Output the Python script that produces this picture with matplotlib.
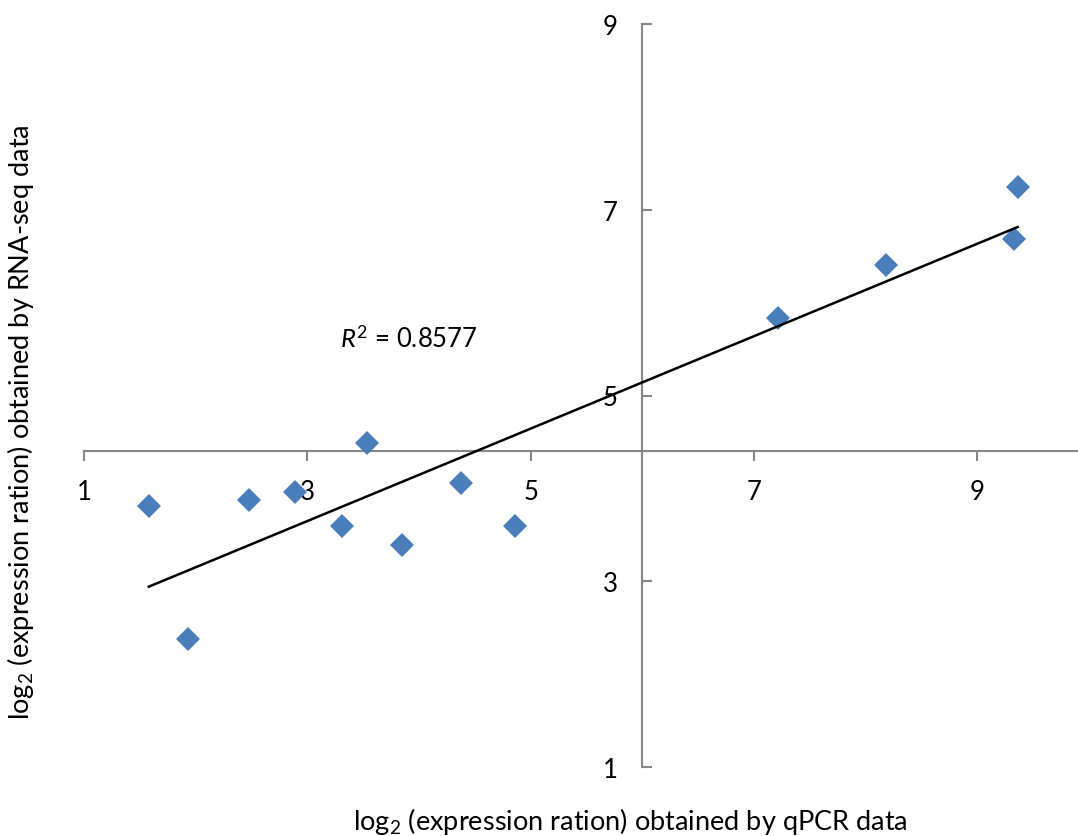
import numpy as np
import matplotlib
matplotlib.use("Agg")
import matplotlib.pyplot as plt

# --- данные ---
qpcr = [1.58, 1.93, 2.48, 2.89, 3.31, 3.53, 3.85, 4.38, 4.86, 7.21, 8.18, 9.33, 9.36]
rnaseq = [3.81, 2.38, 3.87, 3.96, 3.60, 4.49, 3.39, 4.06, 3.60, 5.83, 6.41, 6.68, 7.24]
x_ticks = [1, 3, 5, 7, 9]
y_ticks = [1, 3, 5, 7, 9]
r2_text = "0.8577"

plt.rcParams['font.family'] = ['Lato', 'DejaVu Sans']
plt.rcParams['mathtext.fontset'] = 'custom'
plt.rcParams['mathtext.rm'] = 'Lato'
plt.rcParams['mathtext.it'] = 'Lato:italic'

axis_col = '#868686'

fig = plt.figure(figsize=(10.78, 8.37), dpi=100)
ax = fig.add_axes([84 / 1078, 1 - 768 / 837, 994 / 1078, 743 / 837])
ax.set_xlim(1, 9.9)
ax.set_ylim(1, 9)

# оси пересекаются в (6, 4.4)
ax.spines['left'].set_position(('data', 6))
ax.spines['bottom'].set_position(('data', 4.4))
ax.spines['right'].set_visible(False)
ax.spines['top'].set_visible(False)
for s in ['left', 'bottom']:
    ax.spines[s].set_color(axis_col)
    ax.spines[s].set_linewidth(1.5)

ax.set_xticks(x_ticks)
ax.set_yticks(y_ticks)
ax.tick_params(axis='x', direction='out', length=7, width=1.5, color=axis_col,
               pad=13, labelsize=18.5)
ax.tick_params(axis='y', direction='in', length=7, width=1.5, color=axis_col,
               pad=18, labelsize=18.5)

# --- точки и линия тренда ---
ax.plot(qpcr, rnaseq, 'D', color='#4a7ebb', markersize=12, markeredgewidth=0,
        clip_on=False, zorder=3)
k, b = np.polyfit(qpcr, rnaseq, 1)
xs = np.array([min(qpcr), max(qpcr)])
ax.plot(xs, k * xs + b, color='black', linewidth=1.8, zorder=4)

ax.text(3.29, 5.61, r"$R^{2}$ = " + r2_text, fontsize=18.5, va='center', ha='left')

fig.text(630 / 1078, 1 - 822 / 837, r"log$_2$ (expression ration) obtained by qPCR data",
         fontsize=19.5, ha='center', va='center')
fig.text(21 / 1078, 1 - 422 / 837, r"log$_2$ (expression ration) obtained by RNA-seq data",
         fontsize=19.5, ha='center', va='center', rotation=90)

fig.savefig('out.png', dpi=100)
